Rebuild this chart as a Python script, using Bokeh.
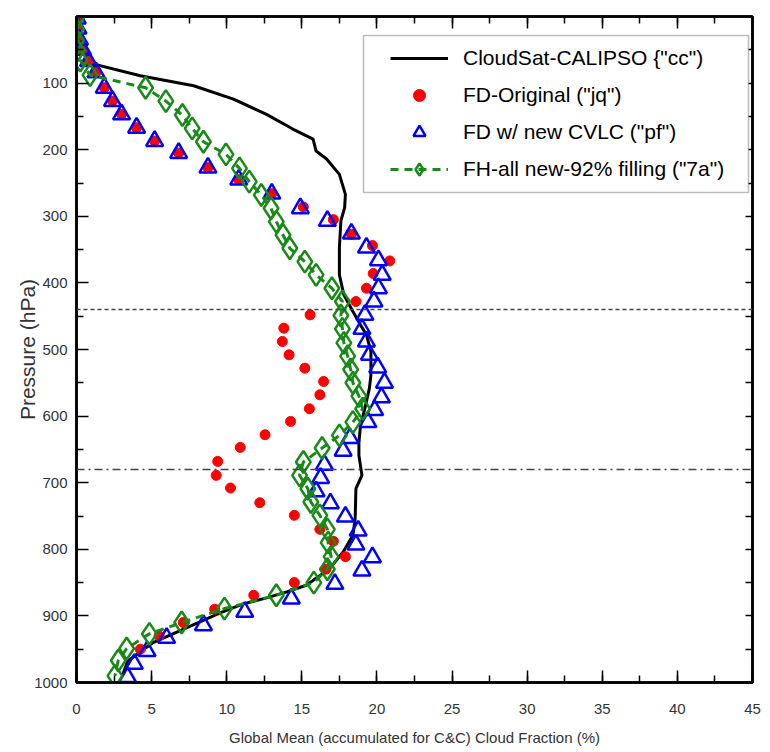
from bokeh.plotting import figure
from bokeh.models import (Range1d, LinearAxis, SingleIntervalTicker, FixedTicker, Span,
                          Legend, LegendItem, BoxAnnotation)
from bokeh.embed import file_html
from bokeh.resources import INLINE

# ---- data (cloud fraction %, pressure hPa) ----
cc_frac = [0.1, 0.4, 0.9, 4.25, 7.8, 10.45, 12.65, 14.4, 15.75, 15.95, 16.65, 17.5, 17.9,
           17.85, 17.6, 17.5, 17.5, 17.8, 18.4, 18.9, 19.3, 19.6, 19.6, 19.5, 19.2, 18.9,
           18.8, 18.8, 19.0, 18.6, 18.55, 18.4, 17.75, 16.85, 15.3, 14.0, 12.65, 11.1,
           9.6, 7.8, 5.1, 3.4, 3.05]
cc_pres = [20, 50, 70, 89, 104, 124, 147, 169, 184, 202, 214, 237, 267, 287, 307, 347,
           388, 418, 443, 463, 478, 503, 538, 558, 588, 615, 640, 659, 689, 709, 754,
           779, 804, 829, 854, 864, 873, 882, 895, 913, 940, 968, 990]

jq_frac = [0.05, 0.1, 0.2, 0.4, 0.8, 1.3, 1.85, 2.4, 3.0, 4.0, 5.2, 6.8, 8.75, 10.8, 13.0,
           15.1, 17.1, 18.3, 19.7, 20.85, 19.75, 19.3, 18.6, 15.55, 13.8, 13.7, 14.15,
           15.2, 16.45, 16.2, 15.5, 14.25, 12.55, 10.9, 9.4, 9.3, 10.25, 12.2, 14.5, 16.2,
           17.1, 17.9, 16.6, 14.5, 11.8, 9.2, 7.1, 5.5, 4.25]
jq_pres = [3, 18, 35, 50, 67, 84, 107, 127, 147, 167, 187, 205, 227, 245, 266, 286, 305,
           327, 344, 367, 386, 408, 428, 448, 468, 488, 508, 528, 548, 568, 589, 608, 628,
           647, 668, 689, 708, 730, 749, 770, 788, 811, 830, 850, 869, 890, 910, 930, 950]

pf_frac = [0.05, 0.1, 0.2, 0.4, 0.8, 1.3, 1.85, 2.4, 3.0, 4.0, 5.2, 6.8, 8.75, 10.8, 13.0,
           14.9, 16.7, 18.3, 19.3, 20.1, 20.35, 20.1, 19.8, 19.2, 19.0, 19.3, 19.5, 20.05,
           20.5, 20.3, 19.85, 19.4, 18.2, 17.75, 16.5, 16.25, 15.95, 16.9, 17.9, 18.75,
           18.6, 19.7, 19.0, 17.2, 14.3, 11.2, 8.45, 6.0, 4.7, 3.85, 3.4]
pf_pres = [3, 18, 35, 50, 67, 84, 107, 127, 147, 167, 187, 205, 227, 245, 266, 288, 307,
           326, 347, 366, 388, 408, 428, 448, 469, 488, 508, 527, 550, 572, 591, 609, 633,
           652, 673, 693, 713, 731, 751, 772, 793, 812, 832, 852, 874, 894, 914, 933, 953,
           972, 992]

fa_frac = [0.0, 0.0, 0.0, 0.05, 0.25, 0.9, 4.6, 5.95, 7.05, 7.7, 8.45, 9.95, 10.85, 11.5,
           12.3, 12.95, 13.3, 13.75, 14.2, 15.2, 15.95, 17.0, 17.7, 17.6, 17.7, 17.8, 18.05,
           18.25, 18.4, 18.8, 19.05, 18.4, 17.5, 16.35, 15.1, 14.85, 15.4, 15.6, 16.2, 16.7,
           16.75, 16.95, 16.7, 15.8, 13.3, 9.85, 7.0, 4.85, 3.34, 2.78, 2.56]
fa_pres = [2, 19, 36, 51, 66, 88, 107, 127, 148, 168, 188, 207, 228, 248, 268, 288, 308,
           328, 348, 368, 388, 408, 428, 449, 469, 490, 510, 530, 550, 570, 589, 609, 629,
           648, 669, 689, 709, 729, 749, 770, 790, 811, 830, 850, 869, 889, 910, 927, 949,
           967, 990]

labels = ['CloudSat-CALIPSO {"cc")', 'FD-Original ("jq")', 'FD w/ new CVLC ("pf")',
          'FH-all new-92% filling ("7a")']
y_ticks = [100, 200, 300, 400, 500, 600, 700, 800, 900, 1000]
y_minor_ticks = [50, 150, 250, 350, 450, 550, 650, 750, 850, 950]
level_upper = 440   # dashed reference line (hPa)
level_lower = 680   # dash-dot reference line (hPa)

FONT = "Liberation Sans"
GREEN = "#178a17"

p = figure(width=770, height=752, x_range=Range1d(0, 45), y_range=Range1d(1000, 0),
           output_backend="svg", toolbar_location=None,
           min_border_left=76, min_border_right=18, min_border_top=16, min_border_bottom=70)
p.xgrid.visible = False
p.ygrid.visible = False
p.outline_line_color = "black"
p.outline_line_width = 2.5
p.background_fill_color = "white"
p.border_fill_color = "white"

def style_axis(ax, major_in, minor_in, show_labels):
    ax.axis_line_color = "black"
    ax.axis_line_width = 2.5
    ax.major_tick_in = major_in
    ax.major_tick_out = 0
    ax.minor_tick_in = minor_in
    ax.minor_tick_out = 0
    ax.major_tick_line_width = 1.5
    ax.minor_tick_line_width = 1.5
    ax.major_tick_line_color = "black"
    ax.minor_tick_line_color = "black"
    if show_labels:
        ax.major_label_text_font = FONT
        ax.major_label_text_font_size = "15px"
        ax.major_label_text_color = "#333333"
        ax.axis_label_text_font = FONT
        ax.axis_label_text_font_style = "normal"
        ax.axis_label_text_color = "#333333"
    else:
        # tick marks only: labels are not painted at all
        ax.major_label_text_font_size = "1px"
        ax.major_label_text_color = None
        ax.major_label_text_alpha = 0
        ax.major_label_standoff = 0

xb = p.xaxis[0]
xb.ticker = SingleIntervalTicker(interval=5, num_minor_ticks=2)
style_axis(xb, 12, 7, True)
xb.major_label_standoff = 21
xb.axis_label = "Global Mean (accumulated for C&C) Cloud Fraction (%)"
xb.axis_label_text_font_size = "15px"
xb.axis_label_standoff = 12

yl = p.yaxis[0]
yl.ticker = FixedTicker(ticks=y_ticks, minor_ticks=y_minor_ticks)
style_axis(yl, 12, 7, True)
yl.major_label_standoff = 9
yl.axis_label = "Pressure (hPa)"
yl.axis_label_text_font_size = "21px"
yl.axis_label_standoff = -8

xt = LinearAxis(ticker=SingleIntervalTicker(interval=5, num_minor_ticks=2))
style_axis(xt, 12, 7, False)
p.add_layout(xt, "above")

yr = LinearAxis(ticker=FixedTicker(ticks=y_ticks, minor_ticks=y_minor_ticks))
style_axis(yr, 7, 7, False)
p.add_layout(yr, "right")

p.add_layout(Span(location=level_upper, dimension="width", line_color="#444444",
                  line_width=1.5, line_dash="4 3"))
p.add_layout(Span(location=level_lower, dimension="width", line_color="#444444",
                  line_width=1.5, line_dash="8 4 2 4"))

r_cc = p.line(cc_frac, cc_pres, line_color="black", line_width=3)
r_jq = p.scatter(jq_frac, jq_pres, marker="circle", size=10, fill_color="red",
                 line_color="red")
r_pf = p.scatter(pf_frac, pf_pres, marker="triangle", size=17, fill_color=None,
                 line_color="blue", line_width=2.5)
r_fa_line = p.line(fa_frac, fa_pres, line_color=GREEN, line_width=3, line_dash="8 6")
r_fa = p.scatter(fa_frac, fa_pres, marker="diamond", size=22, fill_color=None,
                 line_color=GREEN, line_width=2.5)

box = BoxAnnotation(left=287, right=672, top=647, bottom=490,
                    left_units="screen", right_units="screen",
                    top_units="screen", bottom_units="screen",
                    fill_color="white", fill_alpha=1.0,
                    line_color="#222222", line_width=1.5)
p.add_layout(box)

legend = Legend(items=[LegendItem(label=labels[0], renderers=[r_cc]),
                       LegendItem(label=labels[1], renderers=[r_jq]),
                       LegendItem(label=labels[2], renderers=[r_pf]),
                       LegendItem(label=labels[3], renderers=[r_fa_line, r_fa])],
                location=(314, 498), padding=0, margin=0, spacing=7,
                glyph_width=58, glyph_height=30, label_standoff=15,
                label_text_font=FONT, label_text_font_size="21px",
                label_text_color="black",
                border_line_alpha=0, background_fill_alpha=0)
p.add_layout(legend)

open("out.html", "w").write(file_html(p, INLINE))
